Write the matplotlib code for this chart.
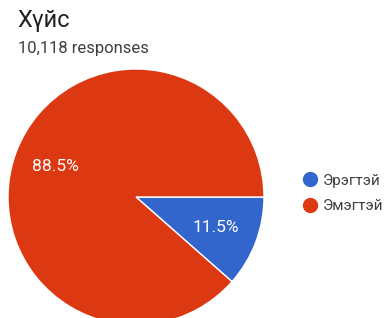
import matplotlib
matplotlib.use("Agg")
import matplotlib.pyplot as plt
from matplotlib.lines import Line2D

title = "Хүйс"
subtitle = "10,118 responses"
categories = ["Эрэгтэй", "Эмэгтэй"]
values = [11.5, 88.5]
colors = ["#3366CC", "#DC3912"]

plt.rcParams['font.family'] = ['Roboto', 'DejaVu Sans']

W, H = 390, 318
fig = plt.figure(figsize=(W/100, H/100), dpi=100)
fig.patch.set_facecolor("white")

cx, cy, r = 136, 197, 128
ax = fig.add_axes([(cx - r)/W, (H - cy - r)/H, 2*r/W, 2*r/H])
wedges, texts, autotexts = ax.pie(
    values, colors=colors, startangle=0, counterclock=False,
    autopct=lambda p: f"{p:.1f}%", pctdistance=0.67,
    wedgeprops=dict(edgecolor="white", linewidth=1.0),
    textprops=dict(color="white", fontsize=12.5),
)
ax.set_xlim(-1, 1)
ax.set_ylim(-1, 1)
ax.set_aspect('auto')
ax.axis('off')

fig.text(17/W, 1 - 21/H, title, fontsize=17, color="#202124", va="center", ha="left")
fig.text(18/W, 1 - 49/H, subtitle, fontsize=12, color="#3c4043", va="center", ha="left")

handles = [Line2D([0], [0], marker='o', linestyle='', markersize=10,
                  markerfacecolor=c, markeredgecolor=c) for c in colors]
fig.legend(handles, categories, loc='center left', bbox_to_anchor=(297/W, 1 - 193.5/H),
           frameon=False, fontsize=11, handletextpad=0.4, labelspacing=0.75,
           handlelength=0.9, borderaxespad=0, labelcolor="#3c4043")

fig.savefig("out.png", dpi=100)
